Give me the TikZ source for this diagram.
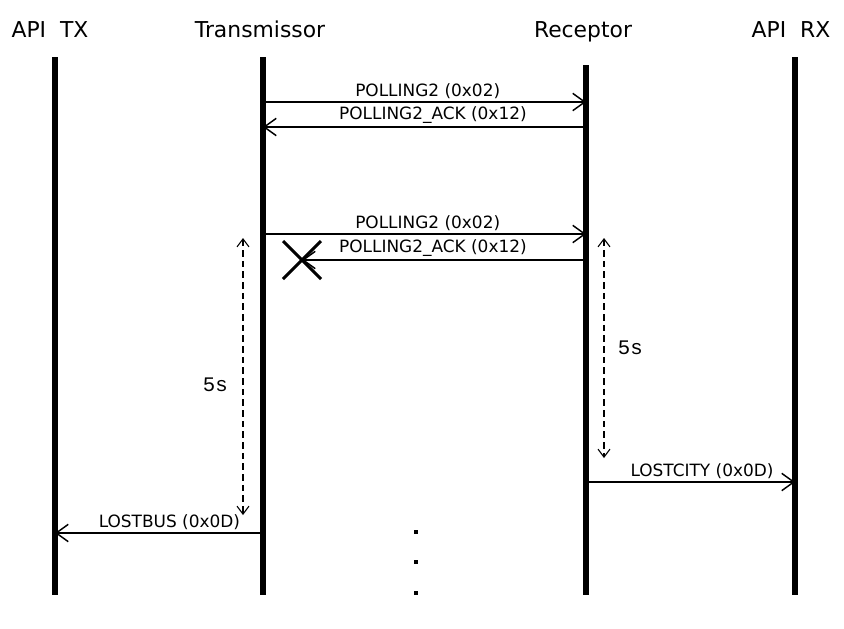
\documentclass[tikz,border=0pt]{standalone}
\usepackage{fontspec}
\setmainfont{DejaVu Sans}
\setmonofont{Liberation Mono}
\usetikzlibrary{arrows.meta,positioning,calc}
\tikzset{
  head/.style     = {font=\fontsize{16.4}{19}\selectfont, inner sep=0pt, anchor=base},
  lifeline/.style = {line width=3.8pt},
  msg/.style      = {-{Straight Barb[length=9pt,width=13pt]}, line width=1.1pt},
  span/.style     = {{Straight Barb[length=6pt,width=9pt]}-{Straight Barb[length=6pt,width=9pt]},
                     line width=0.8pt, dash pattern=on 5pt off 3pt},
  lbl/.style      = {font=\fontsize{12.7}{14}\selectfont, inner sep=2.2pt},
  dur/.style      = {font=\ttfamily\fontsize{15.5}{17}\selectfont, inner sep=2pt},
  lost/.style     = {line width=2.2pt},
  dot/.style      = {fill, inner sep=0pt, minimum size=2.8pt},
}

\begin{document}
\begin{tikzpicture}[x=0.75pt, y=-0.75pt]
  \useasboundingbox (0,0) rectangle (844,629);
  % actors
  \node[head] (apitx) at (50,37) {API\ \ TX};
  \node[head] (tx) at (260,37) {Transmissor};
  \node[head] (rx) at (583,37) {Receptor};
  \node[head] (apirx) at (791,37) {API\ \ RX};
  % lifelines
  \foreach \n/\x/\t in {apitx/55/57, tx/263/57, rx/586/65, apirx/795/57} {
    \coordinate (\n T) at (\x,\t);
    \coordinate (\n B) at (\x,595);
    \draw[lifeline] (\n T) -- (\n B);
  }
  % message levels
  \coordinate (m1) at (0,102);
  \coordinate (m2) at (0,127);
  \coordinate (m3) at (0,234);
  \coordinate (m4) at (0,260);
  \coordinate (m5) at (0,482);
  \coordinate (m6) at (0,533);
  \coordinate (lossX) at (302,260);
  \draw[msg] (txT |- m1) -- (rxT |- m1) node[pos=0.51, above, lbl] {POLLING2 (0x02)};
  \draw[msg] (rxT |- m2) -- (txT |- m2) node[pos=0.474, above, lbl] {POLLING2\_ACK (0x12)};
  \draw[msg] (txT |- m3) -- (rxT |- m3) node[pos=0.51, above, lbl] {POLLING2 (0x02)};
  \draw[msg] (rxT |- m4) -- (lossX) node[pos=0.539, above, lbl] {POLLING2\_ACK (0x12)};
  % lost message
  \draw[lost] ($(lossX)+(-19,-19)$) -- ($(lossX)+(19,19)$);
  \draw[lost] ($(lossX)+(-19,19)$) -- ($(lossX)+(19,-19)$);
  % timeouts
  \coordinate (w1T) at (243,238);
  \coordinate (w1B) at (243,515);
  \coordinate (w2T) at (604,238);
  \coordinate (w2B) at (604,458);
  \draw[span] (w1T) -- (w1B) node[pos=0.53, left=9pt, dur] {5s};
  \draw[span] (w2T) -- (w2B) node[pos=0.5, right=8pt, dur] {5s};
  \draw[msg] (rxT |- m5) -- (apirxT |- m5) node[pos=0.555, above, lbl] {LOSTCITY (0x0D)};
  \draw[msg] (txT |- m6) -- (apitxT |- m6) node[pos=0.45, above, lbl] {LOSTBUS (0x0D)};
  % continuation
  \foreach \y [count=\i] in {532,562,593}
    \node[dot] (dot\i) at (416,\y) {};
\end{tikzpicture}
\end{document}
